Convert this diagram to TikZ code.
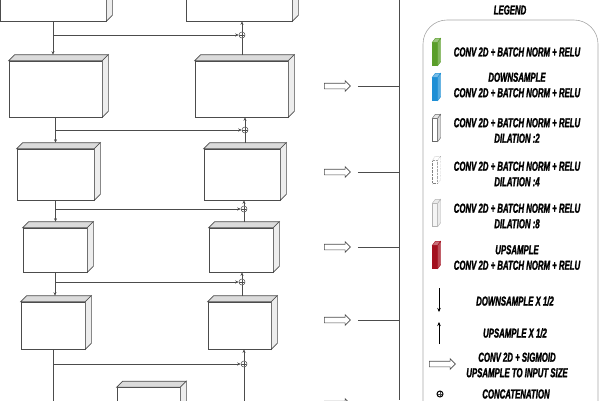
\documentclass[tikz,border=0pt]{standalone}
\usepackage{fontspec}
\newfontfamily\legendfont[FakeStretch=0.6, FakeBold=1.6]{Liberation Sans}
\usepackage{tikz}
\usetikzlibrary{positioning,calc,shapes.arrows,arrows.meta}
\definecolor{convgreen}{HTML}{5A9E2A}
\definecolor{downblue}{HTML}{1E8FD5}
\definecolor{upred}{HTML}{A3101F}
\tikzset{
  block/.style={draw=black!70, fill=white, inner sep=0pt, line width=0.6pt},
  cat/.style={draw=black!70, circle, inner sep=0pt, minimum size=6pt, line width=0.5pt,
    path picture={\draw[black!70, line width=0.5pt] (path picture bounding box.north) -- (path picture bounding box.south)
      (path picture bounding box.west) -- (path picture bounding box.east);}},
  link/.style={draw=black!70, line width=0.5pt},
  down/.style={link, -{Stealth[length=3.5pt,width=3pt]}},
  hollow/.style={single arrow, draw=black!70, fill=white, minimum height=26pt, inner xsep=0pt, inner ysep=2.5pt,
    single arrow head extend=2.5pt, single arrow head indent=0pt, line width=0.6pt},
  legtext/.style={font=\legendfont\bfseries\itshape\fontsize{13}{15.5}\selectfont, align=center, inner sep=0pt},
}
\newcommand{\boxfaces}[2][6]{%
  \draw[black!70, fill=black!14, line width=0.6pt] (#2.north west) -- ++(#1,-#1) -- ($(#2.north east)+(#1,-#1)$) -- (#2.north east) -- cycle;
  \draw[black!70, fill=black!7, line width=0.6pt] (#2.north east) -- ++(#1,-#1) -- ($(#2.south east)+(#1,-#1)$) -- (#2.south east) -- cycle;
}
\newcommand{\slab}[8]{% name, x, y, draw, front, top, side, extra
  \node[draw=#4, fill=#5, inner sep=0pt, minimum width=5pt, minimum height=23pt, #8] (#1) at (#2,#3) {};
  \draw[draw=#4, fill=#6, #8] (#1.north west) -- ++(3,-4) -- ($(#1.north east)+(3,-4)$) -- (#1.north east) -- cycle;
  \draw[draw=#4, fill=#7, #8] (#1.north east) -- ++(3,-4) -- ($(#1.south east)+(3,-4)$) -- (#1.south east) -- cycle;
}
\begin{document}
\begin{tikzpicture}[x=1pt, y=-1pt]
\useasboundingbox (0,0) rectangle (600,400);

% encoder / decoder blocks
\node[block, minimum width=106pt, minimum height=60pt] (enc1) at (53,-9) {};
\node[block, minimum width=93pt, minimum height=56pt] (enc2) at (55.5,89) {};
\node[block, minimum width=77pt, minimum height=51pt] (enc3) at (55.5,174.5) {};
\node[block, minimum width=64pt, minimum height=44pt] (enc4) at (55,250) {};
\node[block, minimum width=64pt, minimum height=47pt] (enc5) at (53,325.5) {};
\node[block, minimum width=63pt, minimum height=47pt] (mid) at (148.5,411) {};
\node[block, minimum width=106pt, minimum height=60pt] (dec1) at (239,-9) {};
\node[block, minimum width=93pt, minimum height=56pt] (dec2) at (241.5,89) {};
\node[block, minimum width=76pt, minimum height=51pt] (dec3) at (242,174.5) {};
\node[block, minimum width=64pt, minimum height=44pt] (dec4) at (241,250) {};
\node[block, minimum width=63pt, minimum height=47pt] (dec5) at (239.5,325.5) {};
\foreach \b in {enc1,enc2,enc3,enc4,enc5,mid,dec1,dec2,dec3,dec4,dec5}{\boxfaces{\b}}

\node[cat] (cat1) at (242,35) {};
\node[cat] (cat2) at (245,130) {};
\node[cat] (cat3) at (244,209) {};
\node[cat] (cat4) at (242,282) {};
\node[cat] (cat5) at (244,364) {};
\coordinate (under) at (0,420);

\foreach \a/\b/\c [count=\i] in {enc1/enc2/cat1,enc2/enc3/cat2,enc3/enc4/cat3,enc4/enc5/cat4}{
  \draw[down] (\a.south) -- ($(\a.south |- \b.north)+(0,-6)$);
  \draw[down] (\a.south |- \c) -- (\c);
}
\draw[link] (enc5.south) -- (enc5.south |- under);
\draw[down] (enc5.south |- cat5) -- (cat5);

\foreach \c/\a/\b in {cat1/dec1/dec2,cat2/dec2/dec3,cat3/dec3/dec4,cat4/dec4/dec5}{
  \draw[down] (\c) -- (\c |- \a.south);
  \draw[link] ($(\c |- \b.north)+(0,-6)$) -- (\c);
}
\draw[down] (cat5) -- (cat5 |- dec5.south);
\draw[link] (cat5 |- under) -- (cat5);

% side outputs
\coordinate (busTop) at (399,0);
\coordinate (busBot) at (399,400);
\draw[link] (busTop) -- (busBot);
\foreach \y [count=\i] in {86,172,247,320,404}{
  \node[hollow] (out\i) at (336,\y) {};
  \draw[link] ([xshift=7pt]out\i.tip) -- (out\i -| busTop);
}

% legend
\node[legtext] (legend) at (510,10) {LEGEND};
\draw[black!35, line width=0.6pt, rounded corners=24pt] (423,440) -- (423,20) -- (598,20) -- (598,440);

\slab{sGreen}{435}{54}{convgreen}{convgreen}{convgreen!60!white}{convgreen!75!white}{}
\slab{sBlue}{435}{89}{downblue}{downblue}{downblue!60!white}{downblue!75!white}{}
\slab{sDil2}{435}{130}{black!60}{white}{black!10}{black!15}{}
\slab{sDil4}{435}{172}{black!50}{white}{white}{white}{densely dotted}
\slab{sDil8}{435}{215}{black!30}{black!4}{black!8}{black!8}{}
\slab{sUp}{435}{257}{upred}{upred}{upred!60!white}{upred!75!white}{}

\node[legtext] (tGreen) at (517,52) {CONV 2D + BATCH NORM + RELU};
\node[legtext] (tBlue) at (517,85) {DOWNSAMPLE\\CONV 2D + BATCH NORM + RELU};
\node[legtext] (tDil2) at (517,130.5) {CONV 2D + BATCH NORM + RELU\\DILATION :2};
\node[legtext] (tDil4) at (517,174) {CONV 2D + BATCH NORM + RELU\\DILATION :4};
\node[legtext] (tDil8) at (517,216) {CONV 2D + BATCH NORM + RELU\\DILATION :8};
\node[legtext] (tUp) at (517,257.5) {UPSAMPLE\\CONV 2D + BATCH NORM + RELU};

\coordinate (dsTop) at (439,288);
\coordinate (dsBot) at (439,312);
\draw[down, black, -{Stealth[length=4pt,width=3.5pt]}] (dsTop) -- (dsBot);
\node[legtext] (tDs) at (515,301) {DOWNSAMPLE X 1/2};
\coordinate (usBot) at (439,344);
\coordinate (usTop) at (439,322);
\draw[down, black, -{Stealth[length=4pt,width=3.5pt]}] (usBot) -- (usTop);
\node[legtext] (tUs) at (515,333) {UPSAMPLE X 1/2};
\node[hollow] (sOut) at (441,364) {};
\node[legtext] (tOut) at (517,365) {CONV 2D + SIGMOID\\UPSAMPLE TO INPUT SIZE};
\node[cat, draw=black, line width=1pt] (sCat) at (440,394) {};
\node[legtext] (tCat) at (516,394) {CONCATENATION};
\end{tikzpicture}
\end{document}
